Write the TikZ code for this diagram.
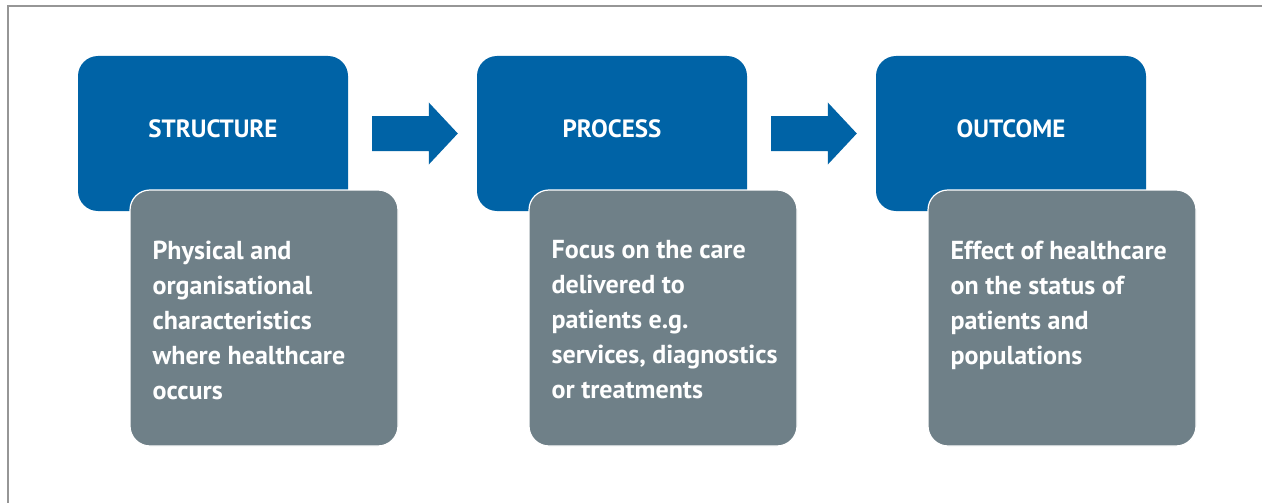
\documentclass[tikz,border=0pt]{standalone}
\usepackage{fontspec}
\setmainfont{PT Sans}
\usetikzlibrary{calc}
\definecolor{dpblue}{RGB}{0,99,166}
\definecolor{dpgrey}{RGB}{111,128,136}
\definecolor{framegrey}{RGB}{150,150,150}
\tikzset{
  headbox/.style={fill=dpblue, draw=none, rounded corners=20pt,
    minimum width=270pt, minimum height=155pt, inner sep=0pt},
  descbox/.style={fill=dpgrey, draw=white, line width=1.2pt, rounded corners=20pt,
    minimum width=268pt, minimum height=256pt, inner sep=0pt},
  headtext/.style={text=white, font=\bfseries\fontsize{25}{30}\selectfont, inner sep=0pt},
  desctext/.style={text=white, font=\bfseries\fontsize{26}{35}\selectfont,
    align=left, anchor=north west, inner sep=0pt},
  flowarrow/.style={fill=dpblue, draw=none},
}
\begin{document}
\begin{tikzpicture}[x=1pt,y=-1pt]
  \useasboundingbox (0,0) rectangle (1262,503);
  \fill[white] (0,0) rectangle (1262,503);
  % outer frame (top and left edges)
  \draw[framegrey, line width=1.5pt] (8,503) -- (8,6) -- (1262,6);

  % three stages: heading box with description box overlapping below
  \foreach \name/\dx/\title/\desc in {
      s/0/STRUCTURE/{Physical and\\organisational\\characteristics\\where healthcare\\occurs},
      p/399/PROCESS/{Focus on the care\\delivered to\\patients e.g.\\services, diagnostics\\or treatments},
      o/798/OUTCOME/{Effect of healthcare\\on the status of\\patients and\\populations}} {
    \node[headbox] (\name h) at (213+\dx,133.5) {};
    \node[headtext] (\name t) at (213+\dx,129) {\title};
    \node[descbox] (\name d) at (264+\dx,318) {};
    \node[desctext] (\name x) at ($(\name d.north west)+(23,51)$) {\desc};
  }

  % block arrows between the heading boxes
  \foreach \a/\b in {s/p, p/o} {
    \coordinate (\a start) at ($(\a h.east)+(24,0)$);
    \coordinate (\a tip) at ($(\b h.west)+(-19,0)$);
    \fill[flowarrow] ($(\a start)+(0,-17.5)$) -- ($(\a tip)+(-29,-17.5)$)
      -- ($(\a tip)+(-29,-31)$) -- (\a tip) -- ($(\a tip)+(-29,31)$)
      -- ($(\a tip)+(-29,17.5)$) -- ($(\a start)+(0,17.5)$) -- cycle;
  }
\end{tikzpicture}
\end{document}
